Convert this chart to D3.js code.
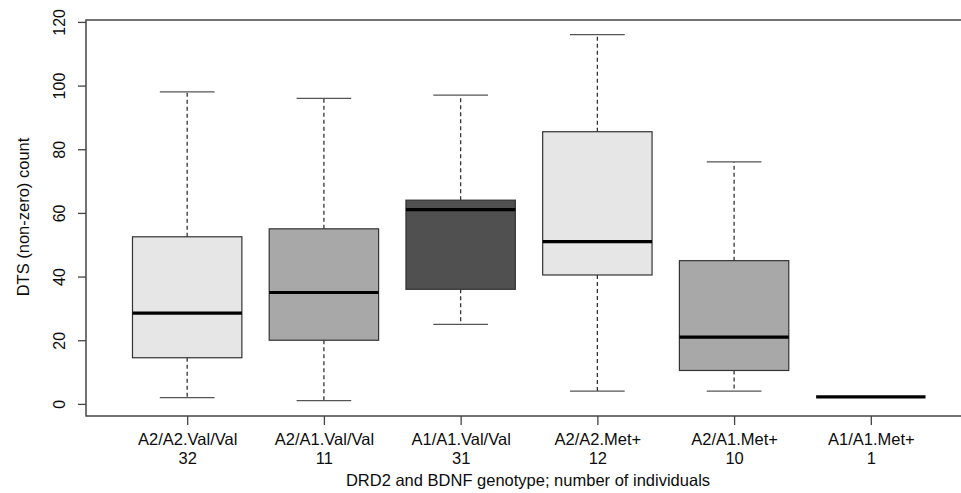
<!DOCTYPE html>
<html>
<head>
<meta charset="UTF-8">
<title>DTS count by genotype</title>
<script src="https://cdn.jsdelivr.net/npm/d3@7"></script>
<style>
  html, body { margin: 0; padding: 0; background: #fff; overflow: hidden; }
  svg { display: block; }
  text { font-family: "Liberation Sans", Arial, Helvetica, sans-serif; fill: #0c0c0c; }
</style>
</head>
<body>
<svg id="chart" width="961" height="493"></svg>
<script>
// genotype groups and the five-number summaries
const genotypes = ["A2/A2.Val/Val", "A2/A1.Val/Val", "A1/A1.Val/Val", "A2/A2.Met+", "A2/A1.Met+", "A1/A1.Met+"];
const counts = [32, 11, 31, 12, 10, 1];
const whiskerLow = [2, 1, 25, 4, 4, 2.2];
const q1 = [14.5, 20, 36, 40.5, 10.5, 2.2];
const medians = [28.5, 35, 61, 51, 21, 2.2];
const q3 = [52.5, 55, 64, 85.5, 45, 2.2];
const whiskerHigh = [98, 96, 97, 116, 76, 2.2];
const fills = ["#e6e6e6", "#a8a8a8", "#505050", "#e6e6e6", "#a8a8a8", "#e6e6e6"];
const yTicks = [0, 20, 40, 60, 80, 100, 120];

// the plot region runs a little past the right edge of the picture
const plot = { left: 86, right: 972, top: 20, bottom: 416 };

const svg = d3.select("#chart");

// R style axes: x from 0.26 to 6.74, y padded 4% past the data
const xScale = d3.scaleLinear()
    .domain([0.26, 6.74])
    .range([plot.left, plot.right]);

const yScale = d3.scaleLinear()
    .domain([-3.8, 120.6])
    .range([plot.bottom, plot.top]);

const unit = xScale(2) - xScale(1);
const boxW = unit * 0.8;
const capW = boxW * 0.5;

const groups = genotypes.map((g, i) => ({
    name: g, n: counts[i], lo: whiskerLow[i], q1: q1[i], med: medians[i],
    q3: q3[i], hi: whiskerHigh[i], fill: fills[i], pos: i + 1
}));

const boxes = svg.append("g").selectAll("g")
    .data(groups)
    .join("g");

// whiskers (dashed)
boxes.append("line")
    .attr("x1", d => xScale(d.pos)).attr("x2", d => xScale(d.pos))
    .attr("y1", d => yScale(d.q3)).attr("y2", d => yScale(d.hi))
    .attr("stroke", "#333").attr("stroke-width", 1.3)
    .attr("stroke-dasharray", "4,3");
boxes.append("line")
    .attr("x1", d => xScale(d.pos)).attr("x2", d => xScale(d.pos))
    .attr("y1", d => yScale(d.q1)).attr("y2", d => yScale(d.lo))
    .attr("stroke", "#333").attr("stroke-width", 1.3)
    .attr("stroke-dasharray", "4,3");

// staples
boxes.filter(d => d.n > 1).selectAll(".cap")
    .data(d => [{ pos: d.pos, v: d.hi }, { pos: d.pos, v: d.lo }])
    .join("line")
    .attr("class", "cap")
    .attr("x1", d => xScale(d.pos) - capW / 2).attr("x2", d => xScale(d.pos) + capW / 2)
    .attr("y1", d => yScale(d.v)).attr("y2", d => yScale(d.v))
    .attr("stroke", "#555").attr("stroke-width", 1.3);

// boxes
boxes.filter(d => d.n > 1).append("rect")
    .attr("x", d => xScale(d.pos) - boxW / 2)
    .attr("width", boxW)
    .attr("y", d => yScale(d.q3))
    .attr("height", d => yScale(d.q1) - yScale(d.q3))
    .attr("fill", d => d.fill)
    .attr("stroke", "#333").attr("stroke-width", 1.2);

// medians
boxes.append("line")
    .attr("x1", d => xScale(d.pos) - boxW / 2).attr("x2", d => xScale(d.pos) + boxW / 2)
    .attr("y1", d => yScale(d.med)).attr("y2", d => yScale(d.med))
    .attr("stroke", "#000").attr("stroke-width", 3.2);

// frame: top, left and bottom sides (the right side is cut off)
svg.append("path")
    .attr("d", `M${plot.right},${plot.top}H${plot.left}V${plot.bottom}H${plot.right}`)
    .attr("fill", "none").attr("stroke", "#444").attr("stroke-width", 1.5);

// y axis
const yAxis = svg.append("g")
    .attr("transform", `translate(${plot.left},0)`)
    .call(d3.axisLeft(yScale).tickValues(yTicks).tickSize(8).tickPadding(4).tickFormat(d3.format("d")));
yAxis.select(".domain").remove();
yAxis.selectAll(".tick line").attr("stroke", "#444").attr("stroke-width", 1.3);
yAxis.selectAll(".tick text")
    .attr("x", null).attr("dy", null)
    .attr("text-anchor", "middle")
    .attr("transform", "translate(-21,0) rotate(-90)")
    .style("font-size", "16px")
    .style("font-family", "'Liberation Sans', Arial, sans-serif")
    .attr("fill", "#0c0c0c");

// x axis
const xAxis = svg.append("g")
    .attr("transform", `translate(0,${plot.bottom})`)
    .call(d3.axisBottom(xScale).tickValues(d3.range(1, 7)).tickSize(9).tickFormat(""));
xAxis.select(".domain").remove();
xAxis.selectAll(".tick line").attr("stroke", "#444").attr("stroke-width", 1.3);
xAxis.selectAll(".tick").each(function (d) {
    const t = d3.select(this);
    t.append("text").attr("y", 29).attr("text-anchor", "middle")
        .style("font-size", "16.5px").text(genotypes[d - 1]);
    t.append("text").attr("y", 48).attr("text-anchor", "middle")
        .style("font-size", "16.5px").text(counts[d - 1]);
});

// axis titles
svg.append("text")
    .attr("x", (plot.left + plot.right) / 2 - 1)
    .attr("y", 486)
    .attr("text-anchor", "middle")
    .style("font-size", "16.5px")
    .text("DRD2 and BDNF genotype; number of individuals");

svg.append("text")
    .attr("transform", `translate(28.5,${(plot.top + plot.bottom) / 2 - 1}) rotate(-90)`)
    .attr("text-anchor", "middle")
    .style("font-size", "16.5px")
    .text("DTS (non-zero) count");
</script>
</body>
</html>
